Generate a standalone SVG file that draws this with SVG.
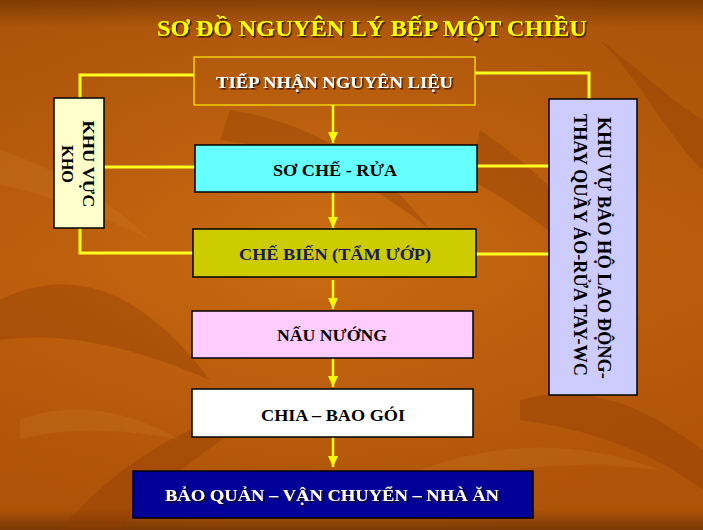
<svg xmlns="http://www.w3.org/2000/svg" width="703" height="530" viewBox="0 0 703 530">
<defs>
<linearGradient id="bg" x1="0" y1="0" x2="0" y2="1">
<stop offset="0" stop-color="#6e3604"/>
<stop offset="0.05" stop-color="#b0580a"/>
<stop offset="0.5" stop-color="#c4640e"/>
<stop offset="0.96" stop-color="#b4560a"/>
<stop offset="1" stop-color="#6a3204"/>
</linearGradient>
<radialGradient id="glow" cx="0.45" cy="0.45" r="0.6">
<stop offset="0" stop-color="#d27418" stop-opacity="0.5"/>
<stop offset="1" stop-color="#a04a06" stop-opacity="0.3"/>
</radialGradient>
<filter id="sh" x="-5%" y="-20%" width="110%" height="140%">
<feDropShadow dx="1.5" dy="1.5" stdDeviation="0.4" flood-color="#2a1000" flood-opacity="0.9"/>
</filter>
<marker id="ah" markerUnits="userSpaceOnUse" markerWidth="12" markerHeight="12" refX="11" refY="5" orient="auto">
<path d="M0,0 L11,5 L0,10 Z" fill="#ffff00"/>
</marker>
</defs>
<style>
.t{font-family:"Liberation Serif","Times New Roman",serif;font-weight:bold;}
.c{stroke:#ffff22;stroke-width:3;fill:none;}
.a{stroke:#ffff00;stroke-width:2.5;fill:none;marker-end:url(#ah);}
.b{stroke:#000;stroke-width:1.5;}
</style>
<rect width="703" height="530" fill="url(#bg)"/>
<rect width="703" height="530" fill="url(#glow)"/>
<g fill="#8e3c04" opacity="0.35">
<path d="M0,300 C80,260 150,300 210,380 C140,350 70,330 0,340 Z"/>
<path d="M60,530 C120,460 190,420 280,400 C220,440 160,480 120,530 Z"/>
<path d="M480,130 C540,170 600,230 640,320 C590,260 530,210 470,180 Z"/>
<path d="M520,400 C590,380 650,410 703,450 L703,490 C650,450 590,430 520,420 Z"/>
<path d="M230,110 C300,120 380,160 430,230 C370,180 300,150 220,140 Z"/>
<path d="M600,40 C640,80 670,140 703,170 L703,120 C670,100 640,70 600,40 Z"/>
</g>
<g fill="#d98a30" opacity="0.18">
<path d="M0,150 C60,170 110,200 150,240 C100,215 50,195 0,185 Z"/>
<path d="M420,470 C500,440 580,440 660,470 C580,460 500,465 420,490 Z"/>
<path d="M20,420 C70,400 130,410 180,440 C130,430 70,425 20,440 Z"/>
</g>
<text class="t" x="372" y="36" font-size="24" fill="#ffff00" text-anchor="middle" textLength="430" lengthAdjust="spacingAndGlyphs" filter="url(#sh)">SƠ ĐỒ NGUYÊN LÝ BẾP MỘT CHIỀU</text>
<g id="connectors">
<polyline class="c" points="194,75 80,75 80,98"/>
<line class="c" x1="104" y1="167" x2="195" y2="167"/>
<polyline class="c" points="80,228 80,253 193,253"/>
<polyline class="c" points="475,73 589,73 589,99"/>
<line class="c" x1="477" y1="166" x2="549" y2="166"/>
<line class="c" x1="476" y1="254" x2="549" y2="254"/>
<line class="a" x1="333" y1="105" x2="333" y2="143"/>
<line class="a" x1="333" y1="192" x2="333" y2="228"/>
<line class="a" x1="333" y1="280" x2="333" y2="309"/>
<line class="a" x1="333" y1="358" x2="333" y2="387"/>
<line class="a" x1="333" y1="437" x2="333" y2="467"/>
</g>
<g id="tiep-nhan">
<rect x="194" y="57" width="281" height="48" fill="none" stroke="#ffee00" stroke-width="1.2"/>
<text class="t" x="334.5" y="88" font-size="16" fill="#ffffff" text-anchor="middle" textLength="237" lengthAdjust="spacingAndGlyphs" filter="url(#sh)">TIẾP NHẬN NGUYÊN LIỆU</text>
</g>
<g id="so-che">
<rect class="b" x="195" y="145" width="282" height="47" fill="#66ffff"/>
<text class="t" x="335" y="176" font-size="16" fill="#000" text-anchor="middle" textLength="124" lengthAdjust="spacingAndGlyphs">SƠ CHẾ - RỬA</text>
</g>
<g id="che-bien">
<rect class="b" x="193" y="229" width="283" height="48" fill="#cccc00"/>
<text class="t" x="335" y="260" font-size="17" fill="#1a1a5e" text-anchor="middle" textLength="192" lengthAdjust="spacingAndGlyphs">CHẾ BIẾN (TẨM ƯỚP)</text>
</g>
<g id="nau-nuong">
<rect class="b" x="192" y="311" width="281" height="47" fill="#ffccff"/>
<text class="t" x="332" y="341" font-size="16" fill="#000" text-anchor="middle" textLength="110" lengthAdjust="spacingAndGlyphs">NẤU NƯỚNG</text>
</g>
<g id="chia">
<rect class="b" x="192" y="389" width="281" height="48" fill="#ffffff"/>
<text class="t" x="333" y="421" font-size="16" fill="#000" text-anchor="middle" textLength="144" lengthAdjust="spacingAndGlyphs">CHIA – BAO GÓI</text>
</g>
<g id="bao-quan">
<rect class="b" x="133" y="471" width="400" height="47" fill="#000099"/>
<text class="t" x="332" y="501" font-size="17" fill="#ffffff" text-anchor="middle" textLength="334" lengthAdjust="spacingAndGlyphs" filter="url(#sh)">BẢO QUẢN – VẬN CHUYỂN – NHÀ ĂN</text>
</g>
<g id="khu-vuc-kho">
<rect class="b" x="54" y="98" width="50" height="130" fill="#ffffcc"/>
<g transform="translate(83,164) rotate(90)">
<text class="t" x="0" y="0" font-size="17" fill="#000" text-anchor="middle" textLength="87" lengthAdjust="spacingAndGlyphs">KHU VỰC</text>
<text class="t" x="0" y="21.5" font-size="17" fill="#000" text-anchor="middle" textLength="38" lengthAdjust="spacingAndGlyphs">KHO</text>
</g>
</g>
<g id="khu-vuc-bao-ho">
<rect class="b" x="549" y="99" width="88" height="296" fill="#ccccff"/>
<g transform="translate(598,248) rotate(90)">
<text class="t" x="0" y="0" font-size="18" fill="#000" text-anchor="middle" textLength="262" lengthAdjust="spacingAndGlyphs">KHU VỰ BẢO HỘ LAO ĐỘNG-</text>
<text class="t" x="-3" y="24" font-size="18" fill="#000" text-anchor="middle" textLength="262" lengthAdjust="spacingAndGlyphs">THAY QUẦY ÁO-RỬA TAY-WC</text>
</g>
</g>
</svg>
